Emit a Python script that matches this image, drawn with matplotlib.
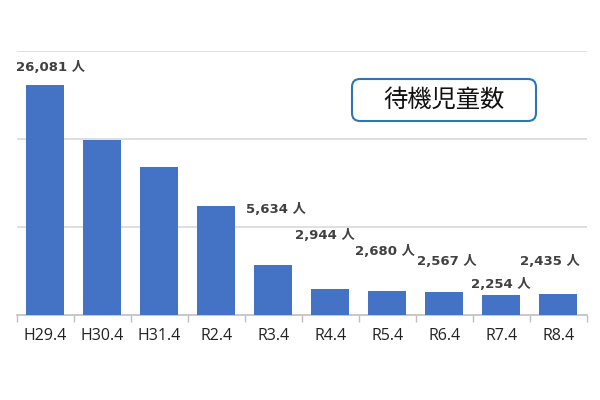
import numpy as np
import matplotlib.pyplot as plt
from matplotlib.patches import FancyBboxPatch

plt.rcParams['font.family'] = ['Noto Sans CJK JP', 'DejaVu Sans']

# 待機児童数（各年4月）
years = ['H29.4', 'H30.4', 'H31.4', 'R2.4', 'R3.4', 'R4.4', 'R5.4', 'R6.4', 'R7.4', 'R8.4']
counts = [26081, 19895, 16772, 12439, 5634, 2944, 2680, 2567, 2254, 2435]
# ラベルを表示する棒と、その表示高さ
label_idx = [0, 4, 5, 6, 7, 8, 9]
label_y = [28100, 11950, 9000, 7200, 6050, 3450, 6050]
label_dx = [0.1, 0.05, -0.1, -0.05, 0.05, 0.0, -0.15]

fig = plt.figure(figsize=(6, 4), dpi=100)
ax = fig.add_axes([0.028, 0.2125, 0.95, 0.66])

x = np.arange(len(years))
ax.bar(x, counts, width=0.67, color='#4472C4', zorder=3)

ax.set_xlim(-0.5, len(years) - 0.5)
ax.set_ylim(0, 30000)
ax.set_yticks([10000, 20000, 30000])
ax.yaxis.grid(True, color='#D9D9D9', linewidth=1.2, zorder=0)
ax.tick_params(axis='y', left=False, labelleft=False)

ax.set_xticks(x)
ax.set_xticklabels(years, fontsize=11.5, color='#222222', family=['Open Sans', 'DejaVu Sans'])
ax.set_xticks(np.arange(len(years) + 1) - 0.5, minor=True)
ax.tick_params(axis='x', which='major', length=0, pad=9)
ax.tick_params(axis='x', which='minor', length=5, color='#BFBFBF', width=1)

for s in ['top', 'right', 'left']:
    ax.spines[s].set_visible(False)
ax.spines['bottom'].set_color('#BFBFBF')
ax.spines['bottom'].set_linewidth(1.2)

for i, yv, dx in zip(label_idx, label_y, label_dx):
    ax.text(x[i] + dx, yv, f'{counts[i]:,} 人', ha='center', va='center',
            fontsize=9.5, fontweight='bold', color='#404040', zorder=4,
            family=['DejaVu Sans', 'Noto Sans CJK JP'])

# タイトル枠
box = FancyBboxPatch((352, 279), 184, 42, boxstyle='round,pad=0,rounding_size=8',
                     transform=None, facecolor='white', edgecolor='#2E75B6',
                     linewidth=1.5, zorder=5)
fig.patches.append(box)
fig.text(444 / 600, 1 - 100 / 400, '待機児童数', ha='center', va='center',
         fontsize=17.5, color='#111111', zorder=6)

fig.savefig('out.png', dpi=100)
